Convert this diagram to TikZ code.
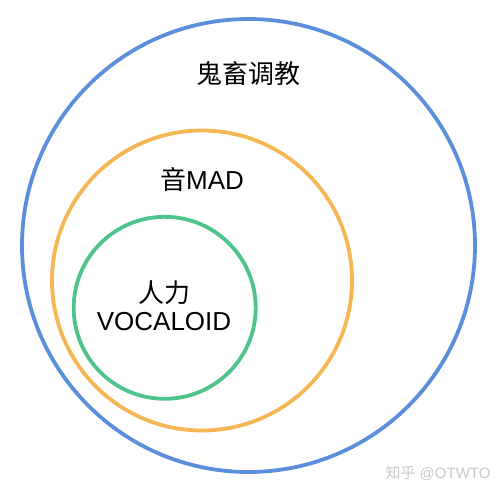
\documentclass[tikz,border=0pt]{standalone}
\usepackage{fontspec}
\setmainfont{Liberation Sans}
\newfontfamily\cjk{Noto Sans CJK SC}
\usetikzlibrary{positioning}
\definecolor{setblue}{HTML}{5B8FDB}
\definecolor{setorange}{HTML}{F5B656}
\definecolor{setgreen}{HTML}{4EC48C}
\definecolor{markgray}{HTML}{C8C8C8}
\tikzset{
set/.style={draw,circle,line width=3.8pt,inner sep=0pt},
setlabel/.style={align=center,font=\fontsize{26}{29}\selectfont,inner sep=0pt},
creditmark/.style={font=\fontsize{15}{17}\selectfont,text=markgray,inner sep=0pt}
}

\begin{document}
\begin{tikzpicture}[x=1pt,y=-1pt]
\useasboundingbox (0,0) rectangle (503,496);
\node[set,setblue,minimum size=453pt] (outer) at (248.5,245.5) {};
\node[set,setorange,minimum size=300pt] (mid) at (202,280.5) {};
\node[set,setgreen,minimum size=182pt] (inner) at (164.7,307.8) {};

\node[setlabel] (outerlabel) at (248,74) {\cjk 鬼畜调教};
\node[setlabel] (midlabel) at (202,180) {{\cjk 音}MAD};
\node[setlabel] (innerlabel) at (164,293) {\cjk 人力};
\node[setlabel,below=7pt of innerlabel] (innervocal) {VOCALOID};

\node[creditmark] (credit) at (438,473) {{\cjk 知乎} @OTWTO};
\end{tikzpicture}
\end{document}
